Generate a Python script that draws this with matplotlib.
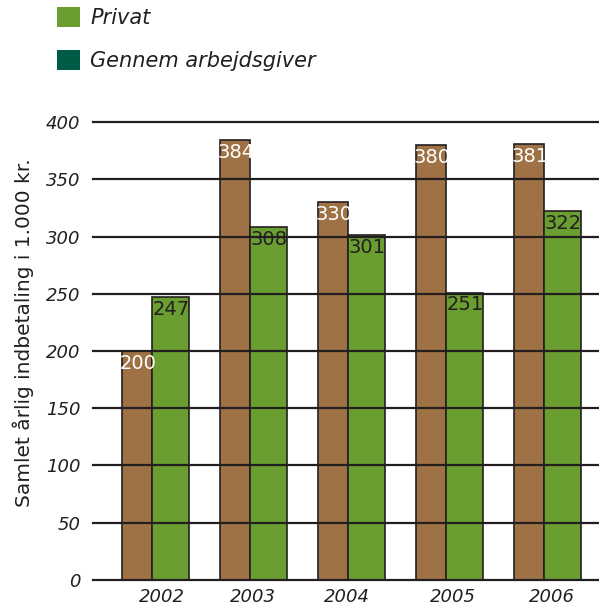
import numpy as np
import matplotlib
matplotlib.use('Agg')
import matplotlib.pyplot as plt
from matplotlib.patches import Patch

# values
years = ['2002', '2003', '2004', '2005', '2006']
brown_vals = [200, 384, 330, 380, 381]
privat_vals = [247, 308, 301, 251, 322]
legend_labels = ['Privat', 'Gennem arbejdsgiver']

BROWN = '#9F7245'
GREEN = '#6A9E30'
DARK_GREEN = '#005B46'
INK = '#231F20'

fig = plt.figure(figsize=(5.99, 6.07), dpi=100)
ax = fig.add_axes([0.155, 0.0445, 0.845, 0.7545])

x = np.arange(len(years))
bw, gw = 0.31, 0.38
b1 = ax.bar(x - bw / 2, brown_vals, width=bw, color=BROWN, edgecolor=INK, linewidth=1.2, zorder=1)
b2 = ax.bar(x + gw / 2, privat_vals, width=gw, color=GREEN, edgecolor=INK, linewidth=1.2, zorder=1)

for rect, v in zip(b1, brown_vals):
    ax.annotate(str(v), (rect.get_x() + rect.get_width() / 2, v), xytext=(1, -2),
                textcoords='offset points', ha='center', va='top', fontsize=14, color='white', zorder=3)
for rect, v in zip(b2, privat_vals):
    ax.annotate(str(v), (rect.get_x() + rect.get_width() / 2, v), xytext=(0, -2),
                textcoords='offset points', ha='center', va='top', fontsize=14, color=INK, zorder=3)

ax.set_xlim(-0.606, 4.56)
ax.set_ylim(0, 400)
ax.set_yticks(np.arange(0, 401, 50))
ax.set_xticks(x + np.array([0.10, 0.03, -0.01, 0.07, 0.08]))
ax.set_xticklabels(years, fontstyle='italic', fontsize=13, color=INK)
for lab in ax.get_yticklabels():
    lab.set_fontstyle('italic')
    lab.set_fontsize(13)
    lab.set_color(INK)
ax.tick_params(axis='both', length=0)
ax.tick_params(axis='y', pad=9)
ax.tick_params(axis='x', pad=6)
for s in ax.spines.values():
    s.set_visible(False)

# horizontal rules drawn over the bars
for yv in np.arange(0, 401, 50):
    ax.axhline(yv, color=INK, linewidth=1.6, zorder=2, clip_on=False)

ax.set_ylabel('Samlet årlig indbetaling i 1.000 kr.', fontsize=14.5, color=INK)
ax.yaxis.set_label_coords(-0.116, 0.541)

handles = [Patch(facecolor=GREEN), Patch(facecolor=DARK_GREEN)]
fig.legend(handles, legend_labels, loc='upper left', bbox_to_anchor=(57 / 599, 1 - 7 / 607),
           frameon=False, borderpad=0, borderaxespad=0, handlelength=1.1, handleheight=1.1,
           labelspacing=1.05, handletextpad=0.5, prop={'size': 15, 'style': 'italic'},
           labelcolor=INK)

fig.savefig('out.png', dpi=100)
